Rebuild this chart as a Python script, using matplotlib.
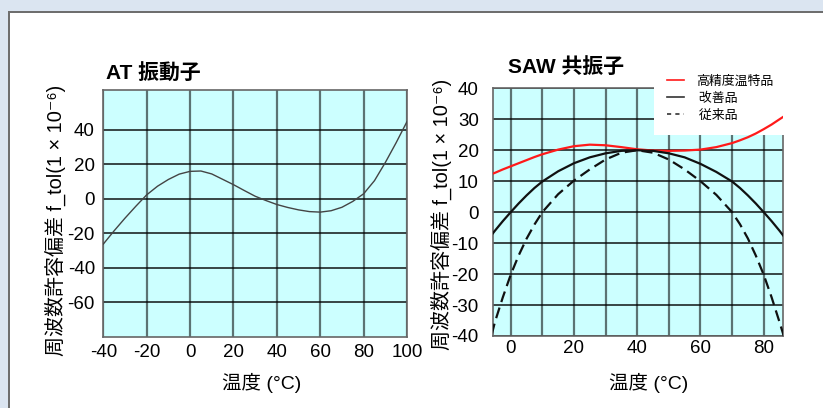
import matplotlib
matplotlib.use("Agg")
import matplotlib.pyplot as plt
from matplotlib.patches import Rectangle
from matplotlib.lines import Line2D

LAT = "Liberation Sans"
CJK = "Noto Sans CJK JP"
plt.rcParams["font.family"] = [LAT, "DejaVu Sans", CJK]
plt.rcParams["axes.unicode_minus"] = False

# ---------------- data ----------------
at_title = "AT 振動子"
saw_title = "SAW 共振子"
ylabel_text = "周波数許容偏差 f_tol(1 × 10⁻⁶)"
xlabel_text = "温度 (°C)"

at_temp = [-40, -35, -30, -25, -20, -15, -10, -5, 0, 5, 10, 15, 20, 25, 30,
           35, 40, 45, 50, 55, 60, 65, 70, 75, 80, 85, 90, 95, 100]
at_dev = [-26.2, -18.5, -11.2, -4.3, 2.3, 7.3, 11.2, 14.3, 15.9, 16.1, 14.4,
          11.3, 8.2, 4.8, 1.5, -1.0, -3.3, -5.0, -6.4, -7.4, -7.7, -6.9, -4.9,
          -1.5, 2.9, 10.5, 21.0, 32.5, 44.7]
at_xticks = [-40, -20, 0, 20, 40, 60, 80, 100]
at_yticks = [-60, -40, -20, 0, 20, 40]

saw_temp = [-6, -5, -2.5, 0, 2.5, 5, 7.5, 10, 15, 20, 25, 30, 35, 40, 45, 50,
            55, 60, 65, 70, 72.5, 75, 77.5, 80, 82.5, 85, 86.5]
saw_high = [12.3, 12.7, 13.8, 14.8, 15.8, 16.8, 17.8, 18.7, 20.2, 21.3, 21.8,
            21.6, 21.0, 20.3, 19.9, 19.8, 19.9, 20.2, 21.0, 22.3, 23.2, 24.2,
            25.4, 26.8, 28.3, 30.0, 31.0]
saw_improved = [-7.3, -6.0, -2.9, 0.0, 2.8, 5.4, 7.8, 9.9, 13.2, 15.8, 17.7,
                19.0, 19.8, 20.0, 19.8, 19.0, 17.7, 15.6, 13.0, 9.9, 7.8, 5.4,
                2.8, 0.0, -2.9, -6.0, -8.0]
saw_conv = [-39.5, -35.5, -27.5, -20.2, -14.0, -8.6, -4.0, 0.0, 5.8, 10.2, 13.8,
            17.0, 19.2, 20.0, 19.2, 17.0, 13.8, 10.0, 5.6, 0.0, -3.9, -8.5,
            -14.0, -20.2, -27.5, -35.5, -40.5]
saw_labels = ["高精度温特品", " 改善品", " 従来品"]
saw_xticks = [0, 20, 40, 60, 80]
saw_xminor = [10, 30, 50, 70]
saw_yticks = [-40, -30, -20, -10, 0, 10, 20, 30, 40]

# ---------------- figure ----------------
W, H = 823, 408
fig = plt.figure(figsize=(W / 100, H / 100), dpi=100)
fig.patch.set_facecolor("white")


def fx(x):
    return x / W


def fy(y):
    return 1 - y / H


# window-like frame
fig.add_artist(Rectangle((0, fy(11)), 1, 11 / H, transform=fig.transFigure,
                         facecolor="#dbe5f1", edgecolor="none", zorder=0))
fig.add_artist(Rectangle((0, 0), fx(8), 1, transform=fig.transFigure,
                         facecolor="#dbe5f1", edgecolor="none", zorder=0))
fig.add_artist(Rectangle((fx(8), fy(12.7)), 1, 1.7 / H, transform=fig.transFigure,
                         facecolor="#6e6e6e", edgecolor="none", zorder=1))
fig.add_artist(Rectangle((fx(8), 0), 2.5 / W, fy(11), transform=fig.transFigure,
                         facecolor="#6e6e6e", edgecolor="none", zorder=1))


def style(ax):
    ax.set_facecolor("#ccffff")
    for s in ax.spines.values():
        s.set_color("#666666")
        s.set_linewidth(1.2)
    ax.grid(True, axis="x", which="both", color="#000000", alpha=0.55, lw=1.6)
    ax.grid(True, axis="y", which="major", color="#000000", alpha=0.85, lw=1.2)
    ax.set_axisbelow(True)
    ax.tick_params(which="both", length=0, labelsize=13.5, colors="black")


# ---- AT chart ----
ax1 = fig.add_axes([fx(103.3), fy(337), fx(407 - 103.3), (337 - 90) / H])
style(ax1)
ax1.set_xlim(-40, 100)
ax1.set_ylim(-80, 63)
ax1.set_xticks(at_xticks)
ax1.set_yticks(at_yticks)
ax1.tick_params(axis="y", pad=6)
ax1.tick_params(axis="x", pad=5)
ax1.plot(at_temp, at_dev, color="#444444", lw=1.0, zorder=3)

# ---- SAW chart ----
ax2 = fig.add_axes([fx(492.7), fy(336), fx(783.3 - 492.7), (336 - 88.3) / H])
style(ax2)
ax2.set_xlim(-5.7, 86.2)
ax2.set_ylim(-40, 40)
ax2.set_xticks(saw_xticks)
ax2.set_xticks(saw_xminor, minor=True)
ax2.set_yticks(saw_yticks)
ax2.tick_params(axis="y", pad=10)
ax2.tick_params(axis="x", pad=3)
l1, = ax2.plot(saw_temp, saw_high, color="#ff1a1a", lw=1.6, zorder=4,
               clip_on=False)
l2, = ax2.plot(saw_temp, saw_improved, color="#111111", lw=1.6, zorder=4)
l3, = ax2.plot(saw_temp, saw_conv, color="#111111", lw=1.6,
               linestyle=(0, (5, 2.6)), zorder=4)
# keep the red line from spilling beyond the axes horizontally
l1.set_clip_path(Rectangle((0, 0), 1, 1.5, transform=ax2.transAxes))
l1.set_clip_on(True)

h1 = Line2D([], [], color="#ff1a1a", lw=1.2)
h2 = Line2D([], [], color="#333333", lw=1.2)
h3 = Line2D([], [], color="#333333", lw=1.2, linestyle=(0, (2.5, 2.5)))
leg = ax2.legend([h1, h2, h3], saw_labels, loc="upper left",
                 bbox_to_anchor=(fx(654), fy(62)), bbox_transform=fig.transFigure,
                 frameon=True, facecolor="white", edgecolor="none", framealpha=1,
                 fancybox=False, borderpad=1.0, borderaxespad=0,
                 handlelength=1.3, handletextpad=0.95, labelspacing=0.3,
                 prop={"family": [CJK], "size": 9.3})
leg.set_zorder(2.8)

# ---- texts ----
for x, y, t in [(106, 80, at_title), (508, 73, saw_title)]:
    fig.text(fx(x), fy(y), t, ha="left", va="baseline", fontsize=15,
             fontweight="bold")
for x, y in [(55, 220), (441, 214)]:
    fig.text(fx(x), fy(y), ylabel_text, rotation=90, ha="center", va="center",
             fontsize=14.4)
for x in [262, 649]:
    fig.text(fx(x), fy(383), xlabel_text, ha="center", va="center", fontsize=14)

fig.savefig("out.png", dpi=100)
